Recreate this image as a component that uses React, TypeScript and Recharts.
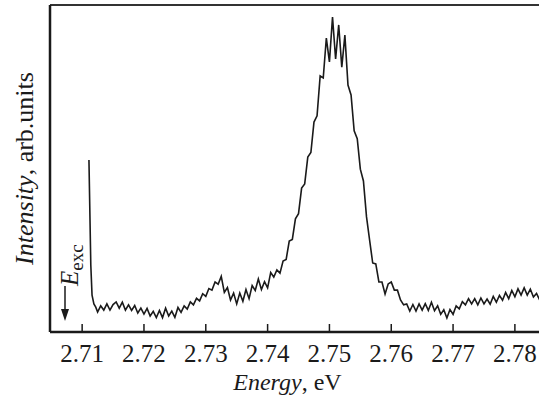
import React from 'react'
import { LineChart, Line, XAxis, YAxis, ReferenceLine, Label } from 'recharts'

// photon energy, eV
const energy = [
  2.7111, 2.7114, 2.7116, 2.7119, 2.7122,
  2.7125, 2.713, 2.7135, 2.714, 2.7145, 2.715, 2.7155, 2.716, 2.7165, 2.717,
  2.7175, 2.718, 2.7185, 2.719, 2.7195, 2.72, 2.7205, 2.721, 2.7215, 2.722,
  2.7225, 2.723, 2.7235, 2.724, 2.7245, 2.725, 2.7255, 2.726, 2.7265, 2.727,
  2.7275, 2.728, 2.7285, 2.729, 2.7295, 2.73, 2.7305, 2.731, 2.7315, 2.732,
  2.7325, 2.733, 2.7335, 2.734, 2.7345, 2.735, 2.7355, 2.736, 2.7365, 2.737,
  2.7375, 2.738, 2.7385, 2.739, 2.7395, 2.74, 2.7405, 2.741, 2.7415, 2.742,
  2.7425, 2.743, 2.7435, 2.744, 2.7445, 2.745, 2.7455, 2.746, 2.7465, 2.747,
  2.7475, 2.748, 2.7485, 2.749, 2.7495, 2.75, 2.7505, 2.751, 2.7515, 2.752,
  2.7525, 2.753, 2.7535, 2.754, 2.7545, 2.755, 2.7555, 2.756, 2.7565, 2.757,
  2.7575, 2.758, 2.7585, 2.759, 2.7595, 2.76, 2.7605, 2.761, 2.7615, 2.762,
  2.7625, 2.763, 2.7635, 2.764, 2.7645, 2.765, 2.7655, 2.766, 2.7665, 2.767,
  2.7675, 2.768, 2.7685, 2.769, 2.7695, 2.77, 2.7705, 2.771, 2.7715, 2.772,
  2.7725, 2.773, 2.7735, 2.774, 2.7745, 2.775, 2.7755, 2.776, 2.7765, 2.777,
  2.7775, 2.778, 2.7785, 2.779, 2.7795, 2.78, 2.7805, 2.781, 2.7815, 2.782,
  2.7825, 2.783, 2.7835, 2.784,
]

// intensity, arb. units (0 = axis, 100 = top of frame)
const intensity = [
  52.6, 20.5, 11.3, 8.6, 7.6,
  6.1, 8.0, 6.7, 8.6, 6.7, 8.4, 9.2, 7.3, 9.1, 6.7,
  8.3, 6.6, 8.1, 5.8, 7.3, 5.5, 7.2, 4.9, 6.3, 4.4,
  6.6, 4.4, 7.3, 4.9, 6.4, 4.5, 7.5, 6.0, 8.0, 7.0,
  9.2, 8.3, 10.3, 9.5, 11.7, 10.9, 13.3, 12.8, 15.3, 14.6,
  17.0, 12.1, 13.6, 9.8, 11.9, 8.6, 11.9, 9.4, 13.0, 10.2,
  14.2, 12.7, 16.2, 13.0, 15.4, 13.5, 18.2, 16.8, 19.0, 18.0,
  21.7, 22.2, 27.8, 28.3, 34.6, 36.2, 44.0, 45.3, 53.5, 54.9,
  64.2, 66.1, 78.3, 77.7, 89.9, 82.6, 96.3, 83.5, 93.9, 81.0,
  90.8, 75.5, 72.5, 61.5, 59.1, 49.8, 46.2, 35.2, 28.1, 21.1,
  20.8, 15.3, 15.3, 11.6, 14.7, 15.3, 12.8, 12.8, 9.8, 8.3,
  8.6, 6.4, 8.4, 6.4, 8.6, 6.7, 8.7, 6.6, 9.1, 6.5,
  8.0, 5.4, 6.8, 4.3, 6.9, 5.4, 8.0, 7.1, 9.3, 8.3,
  10.2, 8.6, 10.2, 8.3, 10.4, 8.6, 10.1, 8.5, 10.9, 9.1,
  11.2, 9.7, 12.1, 10.2, 12.7, 10.8, 13.2, 11.3, 13.5, 11.3,
  13.1, 10.7, 11.8, 9.8,
]

const xTicks = [2.71, 2.72, 2.73, 2.74, 2.75, 2.76, 2.77, 2.78]

const data = energy.map((e, i) => ({ e, v: intensity[i] }))

const FONT = '"Liberation Serif", "Times New Roman", serif'
const INK = '#1a1a1a'

function EnergyTick(props: any) {
  const { x, y, payload } = props
  return (
    <g>
      <line x1={x} x2={x} y1={y} y2={y - 8} stroke={INK} strokeWidth={1.5} />
      <text x={x} y={y + 30} textAnchor="middle" fontFamily={FONT} fontSize={25} fill={INK}>
        {payload.value.toFixed(2)}
      </text>
    </g>
  )
}

export default function App() {
  return (
    <div style={{ position: 'absolute', left: 0, top: 0, width: 539, height: 397, background: '#fff' }}>
      <LineChart width={539} height={397} data={data} margin={{ top: 5, right: 0, bottom: 0, left: 0 }}>
        <XAxis
          dataKey="e"
          type="number"
          domain={[2.7048, 2.7839]}
          allowDataOverflow
          ticks={xTicks}
          tick={<EnergyTick />}
          tickLine={false}
          tickSize={0}
          tickMargin={0}
          height={65}
          axisLine={{ stroke: INK, strokeWidth: 2.5 }}
        >
          <Label
            content={({ viewBox }: any) => (
              <text
                x={viewBox.x + viewBox.width / 2 - 7}
                y={390}
                textAnchor="middle"
                fontFamily={FONT}
                fontSize={24}
                fill={INK}
              >
                <tspan fontStyle="italic">Energy</tspan>
                <tspan>, eV</tspan>
              </text>
            )}
          />
        </XAxis>
        <YAxis
          type="number"
          domain={[0, 100]}
          width={50}
          tick={false}
          tickLine={false}
          axisLine={{ stroke: INK, strokeWidth: 2.5 }}
        >
          <Label
            content={({ viewBox }: any) => {
              const cy = viewBox.y + viewBox.height / 2
              return (
                <text
                  transform={`translate(33, ${cy}) rotate(-90)`}
                  textAnchor="middle"
                  fontFamily={FONT}
                  fontSize={26}
                  fill={INK}
                >
                  <tspan fontStyle="italic">Intensity</tspan>
                  <tspan>, arb.units</tspan>
                </text>
              )
            }}
          />
        </YAxis>
        <ReferenceLine y={100} stroke="#333" strokeWidth={2} ifOverflow="extendDomain" />
        <Line
          dataKey="v"
          type="linear"
          stroke={INK}
          strokeWidth={1.6}
          dot={false}
          isAnimationActive={false}
        />
      </LineChart>
      {/* excitation energy marker */}
      <svg
        width={539}
        height={397}
        style={{ position: 'absolute', left: 0, top: 0, pointerEvents: 'none' }}
      >
        <line x1={65} x2={65} y1={286} y2={312} stroke={INK} strokeWidth={1.5} />
        <polygon points="61,309 69,309 65,321" fill={INK} />
        <text
          transform="translate(78, 286) rotate(-90)"
          fontFamily={FONT}
          fontSize={25}
          fill={INK}
        >
          <tspan fontStyle="italic">E</tspan>
          <tspan fontSize={19} dy={5}>exc</tspan>
        </text>
      </svg>
    </div>
  )
}
